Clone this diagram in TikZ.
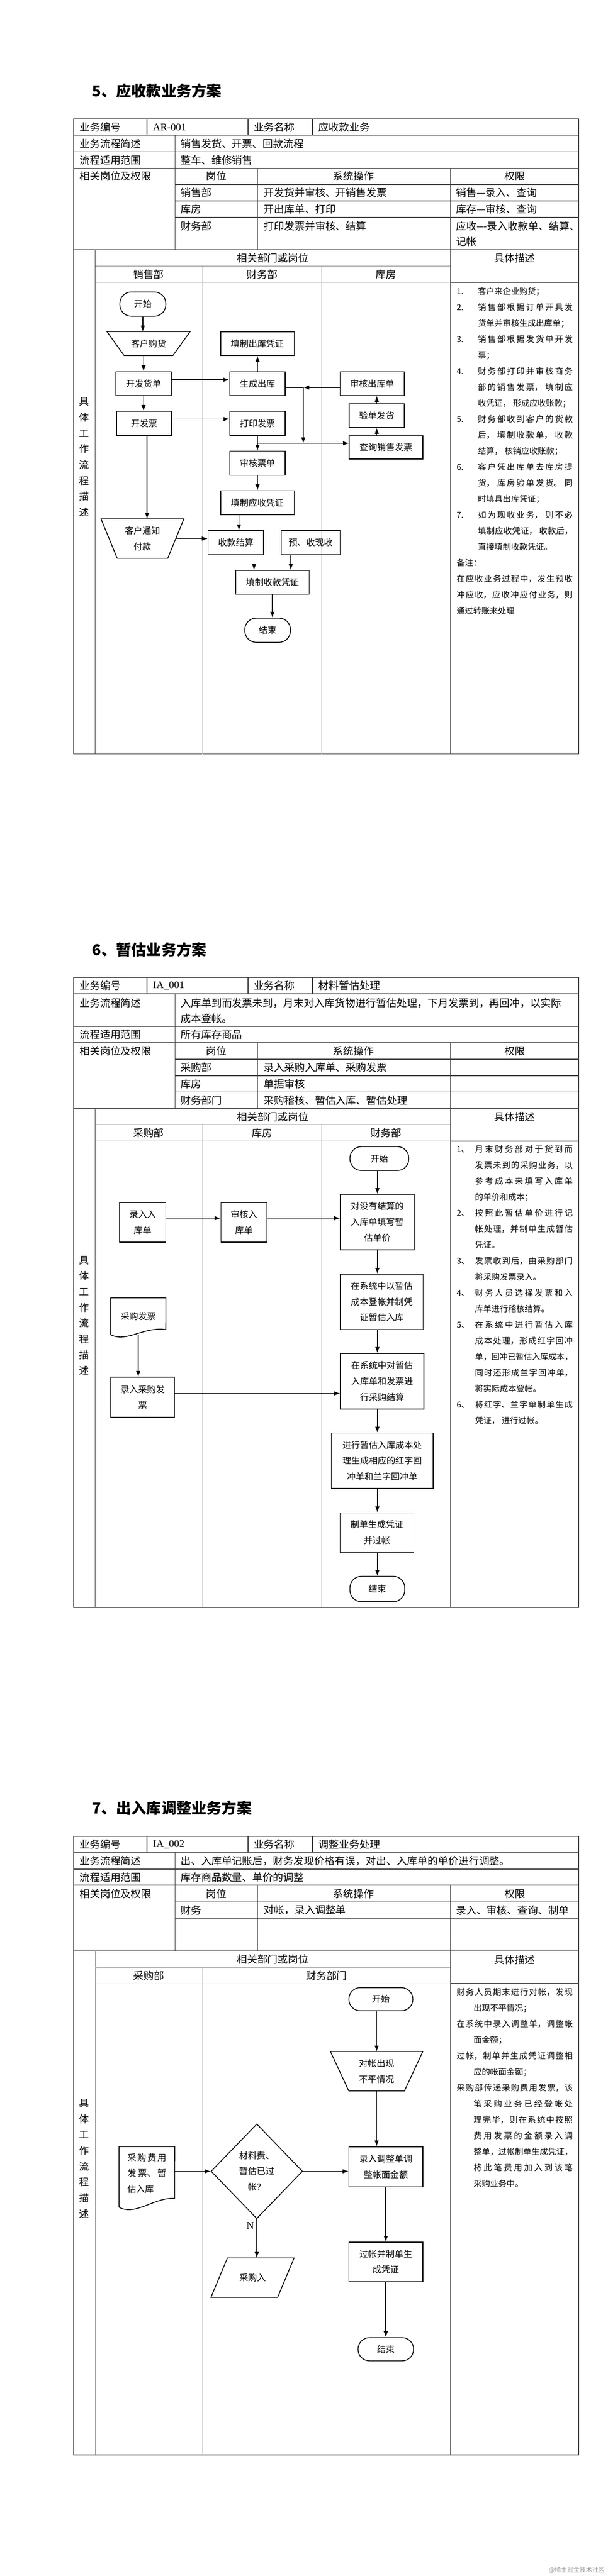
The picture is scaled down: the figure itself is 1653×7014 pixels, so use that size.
\documentclass[tikz,border=0pt]{standalone}
\usepackage{fontspec}
\setmainfont{Noto Sans CJK SC}
\newfontfamily\latinface{Liberation Serif}
\usetikzlibrary{arrows.meta,calc,shapes.geometric}

\XeTeXlinebreaklocale "zh"
\XeTeXlinebreakskip=0pt plus 4pt minus 1pt

\newcommand{\headfont}{\fontsize{41}{48}\selectfont\bfseries}
\newcommand{\tblfont}{\fontsize{28}{43}\selectfont}
\newcommand{\flowfont}{\fontsize{24}{43}\selectfont}
\newcommand{\notefont}{\fontsize{22.5}{43.5}\selectfont}
\newcommand{\notepara}[2]{\par\noindent\hangindent=#1\hangafter=1 #2}
\newcommand{\noteitem}[3]{\notepara{#1}{\makebox[#1][l]{#2}#3}}

\begin{document}
\begin{tikzpicture}[x=1pt,y=-1pt,
    tline/.style={line width=2pt,draw=black!75},
    hline/.style={line width=1.5pt,draw=black!50},
    lane/.style={line width=1.2pt,draw=black!20},
    cell/.style={anchor=west,inner sep=0pt,font=\tblfont},
    headcell/.style={inner sep=0pt,font=\tblfont},
    proc/.style={draw,line width=2.2pt,inner sep=0pt,align=center,font=\flowfont},
    term/.style={proc,rounded corners=31pt},
    bare/.style={inner sep=0pt,align=center,font=\flowfont},
    edgeline/.style={line width=2.2pt},
    arr/.style={line width=2.2pt,-{Latex[length=16pt,width=12pt]}}]

  \fill[white] (0,0) rectangle (1653,7014);
  \useasboundingbox (0,0) rectangle (1653,7014);

  % 5
  \node[anchor=west,inner sep=0pt,font=\headfont] (title5) at (250,247) {5、应收款业务方案};

  \draw[tline] (200,323) rectangle (1574,2053);
  \foreach \y in {368,413,458,680} \draw[tline] (200,\y) -- (1574,\y);
  \foreach \x in {400,675,850} \draw[tline] (\x,323) -- (\x,368);
  \draw[tline] (476,368) -- (476,680);
  \foreach \y in {502,547,592} \draw[tline] (476,\y) -- (1574,\y);
  \foreach \x in {700,1225} \draw[tline] (\x,458) -- (\x,680);
  \draw[tline] (259,680) -- (259,2053);
  \draw[tline] (1225,680) -- (1225,2053);
  \draw[tline] (1225,769) -- (1574,769);
  \draw[hline] (259,725) -- (1225,725);
  \draw[lane] (259,769) -- (1225,769);
  \foreach \x in {550,875} \draw[lane] (\x,725) -- (\x,2053);

  \node[cell] (t1a) at (216,346) {业务编号};
  \node[cell,font=\tblfont\latinface] (t1b) at (416,346) {AR-001};
  \node[cell] (t1c) at (690,346) {业务名称};
  \node[cell] (t1d) at (866,346) {应收款业务};
  \node[cell] (t1e) at (216,391) {业务流程简述};
  \node[cell] (t1f) at (491,391) {销售发货、开票、回款流程};
  \node[cell] (t1g) at (216,436) {流程适用范围};
  \node[cell] (t1h) at (491,436) {整车、维修销售};
  \node[cell] (t1i) at (216,480) {相关岗位及权限};
  \node[headcell] (t1j) at (588,480) {岗位};
  \node[headcell] (t1k) at (962,480) {系统操作};
  \node[headcell] (t1l) at (1400,480) {权限};
  \node[cell] (t1m) at (491,525) {销售部};
  \node[cell] (t1n) at (717,525) {开发货并审核、开销售发票};
  \node[cell] (t1o) at (1240,525) {销售—录入、查询};
  \node[cell] (t1p) at (491,570) {库房};
  \node[cell] (t1q) at (717,570) {开出库单、打印};
  \node[cell] (t1r) at (1240,570) {库存—审核、查询};
  \node[cell] (t1s) at (491,615) {财务部};
  \node[cell] (t1t) at (717,615) {打印发票并审核、结算};
  \node[cell] (t1u) at (1240,615) {应收-{}-{}-录入收款单、结算、};
  \node[cell] (t1v) at (1240,658) {记帐};

  \node[headcell] (f1h) at (742,703) {相关部门或岗位};
  \node[headcell] (f1d) at (1400,703) {具体描述};
  \node[headcell] (f1l1) at (404,747) {销售部};
  \node[headcell] (f1l2) at (713,747) {财务部};
  \node[headcell] (f1l3) at (1050,747) {库房};
  \node[headcell,align=center,font=\fontsize{27}{43}\selectfont] (f1v) at (229,1244.5) {具\\体\\工\\作\\流\\程\\描\\述};

  \node[term,minimum width=125pt,minimum height=66pt] (start1) at (388.5,828) {开始};
  \node[bare,minimum width=226pt,minimum height=65pt] (buy1) at (404,935.5) {客户购货};
  \draw[edgeline] (buy1.north west) -- (buy1.north east) -- ([xshift=-47pt]buy1.south east) -- ([xshift=47pt]buy1.south west) -- cycle;
  \node[proc,minimum width=151pt,minimum height=65pt] (fhd) at (390.5,1044.5) {开发货单};
  \node[proc,minimum width=151pt,minimum height=65pt] (scck) at (700.5,1044.5) {生成出库};
  \node[proc,minimum width=200pt,minimum height=65pt] (ckpz) at (700,935.5) {填制出库凭证};
  \node[proc,minimum width=150pt,minimum height=65pt] (kfp) at (392,1152.5) {开发票};
  \node[proc,minimum width=151pt,minimum height=65pt] (dyfp) at (700.5,1152.5) {打印发票};
  \node[proc,minimum width=151pt,minimum height=66pt] (shpd) at (700.5,1261) {审核票单};
  \node[proc,minimum width=175pt,minimum height=65pt] (shck) at (1012.5,1044.5) {审核出库单};
  \node[proc,minimum width=150pt,minimum height=65pt] (ydfh) at (1025,1131.5) {验单发货};
  \node[proc,minimum width=200pt,minimum height=64pt] (cxfp) at (1050,1218) {查询销售发票};
  \node[proc,minimum width=200pt,minimum height=65pt] (ysz) at (700,1368.5) {填制应收凭证};
  \node[bare,minimum width=225pt,minimum height=107pt] (tz) at (387.5,1466.5) {客户通知\\付款};
  \draw[edgeline] (tz.north west) -- (tz.north east) -- ([xshift=-44pt]tz.south east) -- ([xshift=44pt]tz.south west) -- cycle;
  \node[proc,minimum width=151pt,minimum height=65pt] (skjs) at (641.5,1477.5) {收款结算};
  \node[proc,minimum width=160pt,minimum height=65pt] (yxs) at (845,1477.5) {预、收现收};
  \node[proc,minimum width=200pt,minimum height=65pt] (skpz) at (741,1585.5) {填制收款凭证};
  \node[term,minimum width=124pt,minimum height=66pt] (end1) at (728,1716) {结束};

  \coordinate (j1) at (700.5,1207);
  \coordinate (j2) at (825,1055);
  \coordinate (tzr) at ($(tz.north east)!0.5!([xshift=-44pt]tz.south east)$);
  \draw[arr] (start1.south) -- (start1.south |- buy1.north);
  \draw[arr] (fhd.north |- buy1.south) -- (fhd.north);
  \draw[arr] ([yshift=10.5pt]fhd.east) -- ([yshift=10.5pt]scck.west);
  \draw[arr] (scck.north) -- (scck.north |- ckpz.south);
  \draw[arr] (fhd.south) -- (fhd.south |- kfp.north);
  \draw[arr] ([xshift=6pt,yshift=11.5pt]kfp.east) -- ([yshift=11.5pt]dyfp.west);
  \draw[arr] (dyfp.south) -- (dyfp.south |- shpd.north);
  \draw[arr] (j1) -- (j1 -| cxfp.west);
  \draw[edgeline] ([yshift=-10.5pt]scck.east) -- (j2);
  \draw[arr] (shck.west |- j2) -- (j2);
  \draw[arr] (j2) -- (j2 |- j1);
  \draw[arr] (cxfp.north -| ydfh.south) -- (ydfh.south);
  \draw[arr] (ydfh.north) -- (ydfh.north |- shck.south);
  \draw[arr] (shpd.south) -- (shpd.south |- ysz.north);
  \draw[arr] ([xshift=-50pt]ysz.south) -- ([xshift=-50pt]ysz.south |- skjs.north);
  \draw[arr] ([xshift=8pt]kfp.south) -- ([xshift=8pt]kfp.south |- tz.north);
  \draw[arr] (tzr) -- (tzr -| skjs.west);
  \draw[arr] ([xshift=49.5pt]skjs.south) -- ([xshift=49.5pt]skjs.south |- skpz.north);
  \draw[arr] ([xshift=-54pt]yxs.south) -- ([xshift=-54pt]yxs.south |- skpz.north);
  \draw[arr] (skpz.south) -- (skpz.south |- end1.north);

  \node[anchor=base west,inner sep=0pt] (note1) at (1242,801) {\parbox[t]{316pt}{\notefont\tolerance=9999
    \noteitem{58pt}{1.}{客户来企业购货；}%
    \noteitem{58pt}{2.}{销售部根据订单开具发\linebreak 货单并审核生成出库单；}%
    \noteitem{58pt}{3.}{销售部根据发货单开发\linebreak 票；}%
    \noteitem{58pt}{4.}{财务部打印并审核商务\linebreak 部的销售发票， 填制应\linebreak 收凭证， 形成应收账款；}%
    \noteitem{58pt}{5.}{财务部收到客户的货款\linebreak 后， 填制收款单， 收款\linebreak 结算， 核销应收账款；}%
    \noteitem{58pt}{6.}{客户凭出库单去库房提\linebreak 货， 库房验单发货。 同\linebreak 时填具出库凭证；}%
    \noteitem{58pt}{7.}{如为现收业务， 则不必\linebreak 填制应收凭证， 收款后，\linebreak 直接填制收款凭证。}%
    \notepara{0pt}{备注：}%
    \notepara{0pt}{在应收业务过程中，发生预收\linebreak 冲应收，应收冲应付业务，则\linebreak 通过转账来处理}}};

  % 6
  \node[anchor=west,inner sep=0pt,font=\headfont] (title6) at (250,2585) {6、暂估业务方案};

  \draw[tline] (200,2661) rectangle (1574,4377);
  \foreach \y in {2706,2795,2839,3019} \draw[tline] (200,\y) -- (1574,\y);
  \foreach \x in {400,675,850} \draw[tline] (\x,2661) -- (\x,2706);
  \draw[tline] (476,2706) -- (476,3019);
  \foreach \y in {2884,2929,2973} \draw[tline] (476,\y) -- (1574,\y);
  \foreach \x in {700,1225} \draw[tline] (\x,2839) -- (\x,3019);
  \draw[tline] (259,3019) -- (259,4377);
  \draw[tline] (1225,3019) -- (1225,4377);
  \draw[tline] (1225,3107) -- (1574,3107);
  \draw[hline] (259,3062) -- (1225,3062);
  \draw[lane] (259,3107) -- (1225,3107);
  \foreach \x in {550,875} \draw[lane] (\x,3062) -- (\x,4377);

  \node[cell] (t2a) at (216,2684) {业务编号};
  \node[cell,font=\tblfont\latinface] (t2b) at (416,2684) {IA\_001};
  \node[cell] (t2c) at (690,2684) {业务名称};
  \node[cell] (t2d) at (866,2684) {材料暂估处理};
  \node[cell] (t2e) at (216,2731) {业务流程简述};
  \node[cell] (t2f) at (491,2731) {入库单到而发票未到，月末对入库货物进行暂估处理，下月发票到，再回冲，以实际};
  \node[cell] (t2g) at (491,2773) {成本登帐。};
  \node[cell] (t2h) at (216,2817) {流程适用范围};
  \node[cell] (t2i) at (491,2817) {所有库存商品};
  \node[cell] (t2j) at (216,2862) {相关岗位及权限};
  \node[headcell] (t2k) at (588,2862) {岗位};
  \node[headcell] (t2l) at (962,2862) {系统操作};
  \node[headcell] (t2m) at (1400,2862) {权限};
  \node[cell] (t2n) at (491,2907) {采购部};
  \node[cell] (t2o) at (717,2907) {录入采购入库单、采购发票};
  \node[cell] (t2p) at (491,2951) {库房};
  \node[cell] (t2q) at (717,2951) {单据审核};
  \node[cell] (t2r) at (491,2996) {财务部门};
  \node[cell] (t2s) at (717,2996) {采购稽核、暂估入库、暂估处理};

  \node[headcell] (f2h) at (742,3041) {相关部门或岗位};
  \node[headcell] (f2d) at (1400,3041) {具体描述};
  \node[headcell] (f2l1) at (404,3085) {采购部};
  \node[headcell] (f2l2) at (713,3085) {库房};
  \node[headcell] (f2l3) at (1050,3085) {财务部};
  \node[headcell,align=center,font=\fontsize{27}{43}\selectfont] (f2v) at (229,3582) {具\\体\\工\\作\\流\\程\\描\\述};

  \node[term,minimum width=160pt,minimum height=65pt] (start2) at (1032,3154.5) {开始};
  \node[proc,minimum width=201pt,minimum height=151pt] (gu) at (1026.5,3327.5) {对没有结算的\\入库单填写暂\\估单价};
  \node[proc,minimum width=126pt,minimum height=108pt] (lrrk) at (388,3328) {录入入\\库单};
  \node[proc,minimum width=125pt,minimum height=108pt] (shrk) at (663.5,3328) {审核入\\库单};
  \node[proc,minimum width=225pt,minimum height=151pt] (zgrk) at (1038.5,3544.5) {在系统中以暂估\\成本登帐并制凭\\证暂估入库};
  \node[proc,minimum width=227pt,minimum height=152pt] (jiesuan) at (1039.5,3761) {在系统中对暂估\\入库单和发票进\\行采购结算};
  \node[bare,minimum width=150pt,minimum height=100pt] (cgfp) at (376,3584) {采购发票};
  \draw[edgeline] (cgfp.south west) -- (cgfp.north west) -- (cgfp.north east) -- (451,3620) .. controls (390,3612) and (345,3656) .. (cgfp.south west);
  \node[proc,minimum width=174pt,minimum height=109pt] (lrfp) at (388,3804.5) {录入采购发\\票};
  \node[proc,minimum width=277pt,minimum height=151pt] (chl) at (1039.5,3977.5) {进行暂估入库成本处\\理生成相应的红字回\\冲单和兰字回冲单};
  \node[proc,minimum width=201pt,minimum height=108pt] (zd) at (1025.5,4173) {制单生成凭证\\并过帐};
  \node[term,minimum width=149pt,minimum height=69pt] (end2) at (1026.5,4326.5) {结束};

  \draw[arr] (gu.north |- start2.south) -- (gu.north);
  \draw[arr] ([yshift=11pt]lrrk.east) -- ([yshift=11pt]shrk.west);
  \draw[arr] ([yshift=11pt]shrk.east) -- ([yshift=11pt]shrk.east -| gu.west);
  \draw[arr] (gu.south) -- (gu.south |- zgrk.north);
  \draw[arr] (gu.south |- zgrk.south) -- (gu.south |- jiesuan.north);
  \draw[arr] (cgfp.south) -- (cgfp.south |- lrfp.north);
  \draw[arr] ([yshift=10.5pt]lrfp.east) -- ([yshift=10.5pt]lrfp.east -| jiesuan.west);
  \draw[arr] (gu.south |- jiesuan.south) -- (gu.south |- chl.north);
  \draw[arr] (gu.south |- chl.south) -- (gu.south |- zd.north);
  \draw[arr] (gu.south |- zd.south) -- (gu.south |- end2.north);

  \node[anchor=base west,inner sep=0pt] (note2) at (1242,3137) {\parbox[t]{316pt}{\notefont\tolerance=9999
    \noteitem{50pt}{1、}{月末财务部对于货到而\linebreak 发票未到的采购业务，以\linebreak 参考成本来填写入库单\linebreak 的单价和成本；}%
    \noteitem{50pt}{2、}{按照此暂估单价进行记\linebreak 帐处理，并制单生成暂估\linebreak 凭证。}%
    \noteitem{50pt}{3、}{发票收到后，由采购部门\linebreak 将采购发票录入。}%
    \noteitem{50pt}{4、}{财务人员选择发票和入\linebreak 库单进行稽核结算。}%
    \noteitem{50pt}{5、}{在系统中进行暂估入库\linebreak 成本处理，形成红字回冲\linebreak 单，回冲已暂估入库成本，\linebreak 同时还形成兰字回冲单，\linebreak 将实际成本登帐。}%
    \noteitem{50pt}{6、}{将红字、兰字单制单生成\linebreak 凭证， 进行过帐。}}};

  % 7
  \node[anchor=west,inner sep=0pt,font=\headfont] (title7) at (250,4922) {7、出入库调整业务方案};

  \draw[tline] (200,5000) rectangle (1574,6684);
  \foreach \y in {5044,5089,5133,5312} \draw[tline] (200,\y) -- (1574,\y);
  \foreach \x in {400,675,850} \draw[tline] (\x,5000) -- (\x,5044);
  \draw[tline] (476,5044) -- (476,5312);
  \foreach \y in {5178,5223,5268} \draw[tline] (476,\y) -- (1574,\y);
  \foreach \x in {700,1225} \draw[tline] (\x,5133) -- (\x,5312);
  \draw[tline] (260,5312) -- (260,6684);
  \draw[tline] (1225,5312) -- (1225,6684);
  \draw[tline] (1225,5401) -- (1574,5401);
  \draw[hline] (260,5357) -- (1225,5357);
  \draw[lane] (260,5401) -- (1225,5401);
  \draw[lane] (551,5357) -- (551,6684);

  \node[cell] (t3a) at (216,5022) {业务编号};
  \node[cell,font=\tblfont\latinface] (t3b) at (416,5022) {IA\_002};
  \node[cell] (t3c) at (690,5022) {业务名称};
  \node[cell] (t3d) at (866,5022) {调整业务处理};
  \node[cell] (t3e) at (216,5067) {业务流程简述};
  \node[cell] (t3f) at (491,5067) {出、入库单记账后，财务发现价格有误，对出、入库单的单价进行调整。};
  \node[cell] (t3g) at (216,5111) {流程适用范围};
  \node[cell] (t3h) at (491,5111) {库存商品数量、单价的调整};
  \node[cell] (t3i) at (216,5156) {相关岗位及权限};
  \node[headcell] (t3j) at (588,5156) {岗位};
  \node[headcell] (t3k) at (962,5156) {系统操作};
  \node[headcell] (t3l) at (1400,5156) {权限};
  \node[cell] (t3m) at (491,5201) {财务};
  \node[cell] (t3n) at (717,5201) {对帐，录入调整单};
  \node[cell] (t3o) at (1240,5201) {录入、审核、查询、制单};

  \node[headcell] (f3h) at (742,5335) {相关部门或岗位};
  \node[headcell] (f3d) at (1400,5336) {具体描述};
  \node[headcell] (f3l1) at (405,5380) {采购部};
  \node[headcell] (f3l2) at (888,5380) {财务部门};
  \node[headcell,align=center,font=\fontsize{27}{43}\selectfont] (f3v) at (229,5877.5) {具\\体\\工\\作\\流\\程\\描\\述};

  \node[term,minimum width=174pt,minimum height=63pt] (start3) at (1036,5443.5) {开始};
  \node[bare,minimum width=251pt,minimum height=107pt] (bp) at (1024.5,5639.5) {对帐出现\\不平情况};
  \draw[edgeline] (bp.north west) -- (bp.north east) -- ([xshift=-50pt]bp.south east) -- ([xshift=50pt]bp.south west) -- cycle;
  \node[proc,minimum width=201pt,minimum height=109pt] (lrtz) at (1049.5,5899.5) {录入调整单调\\整帐面金额};
  \node[bare,minimum width=151pt,minimum height=145pt] (doc3) at (399.5,5917.5) {\parbox{106pt}{采购费用\linebreak 发票、暂\linebreak 估入库}};
  \draw[edgeline] (324,6010) -- (doc3.north west) -- (doc3.north east) -- (475,5986) .. controls (420,5982) and (370,6034) .. (324,6010);
  \node[diamond,draw,line width=2.2pt,inner sep=0pt,minimum width=249pt,minimum height=258pt,align=center,font=\flowfont] (dia) at (698.5,5912) {材料费、\\暂估已过\\帐？};
  \node[bare,minimum width=226pt,minimum height=107pt] (pg) at (687,6201.5) {采购入};
  \draw[edgeline] ([xshift=45pt]pg.north west) -- (pg.north east) -- ([xshift=-45pt]pg.south east) -- (pg.south west) -- cycle;
  \node[proc,minimum width=201pt,minimum height=107pt] (gz) at (1049.5,6158.5) {过帐并制单生\\成凭证};
  \node[term,minimum width=151pt,minimum height=63pt] (end3) at (1049.5,6396.5) {结束};

  \draw[arr] (bp.north |- start3.south) -- (bp.north);
  \draw[arr] (bp.south) -- (bp.south |- lrtz.north);
  \draw[arr] (doc3.east |- dia.west) -- (dia.west);
  \draw[arr] (dia.east) -- (dia.east -| lrtz.west);
  \draw[arr] (dia.south) -- (dia.south |- pg.north) node[pos=0.17,left=3pt,font=\fontsize{28}{30}\selectfont\latinface] (nlab) {N};
  \draw[arr] (lrtz.south) -- (lrtz.south |- gz.north);
  \draw[arr] (gz.south) -- (gz.south |- end3.north);

  \node[anchor=base west,inner sep=0pt] (note3) at (1242,5432) {\parbox[t]{316pt}{\notefont\tolerance=9999
    \notepara{46pt}{财务人员期末进行对帐，发现\linebreak 出现不平情况；}%
    \notepara{46pt}{在系统中录入调整单，调整帐\linebreak 面金额；}%
    \notepara{46pt}{过帐，制单并生成凭证调整相\linebreak 应的帐面金额；}%
    \notepara{46pt}{采购部传递采购费用发票，该\linebreak 笔采购业务已经登帐处\linebreak 理完毕，则在系统中按照\linebreak 费用发票的金额录入调\linebreak 整单，过帐制单生成凭证，\linebreak 将此笔费用加入到该笔\linebreak 采购业务中。}}};

  \node[anchor=east,inner sep=0pt,text=black!40,font=\fontsize{17}{20}\selectfont] (mark) at (1645,6998) {@稀土掘金技术社区};

\end{tikzpicture}
\end{document}
